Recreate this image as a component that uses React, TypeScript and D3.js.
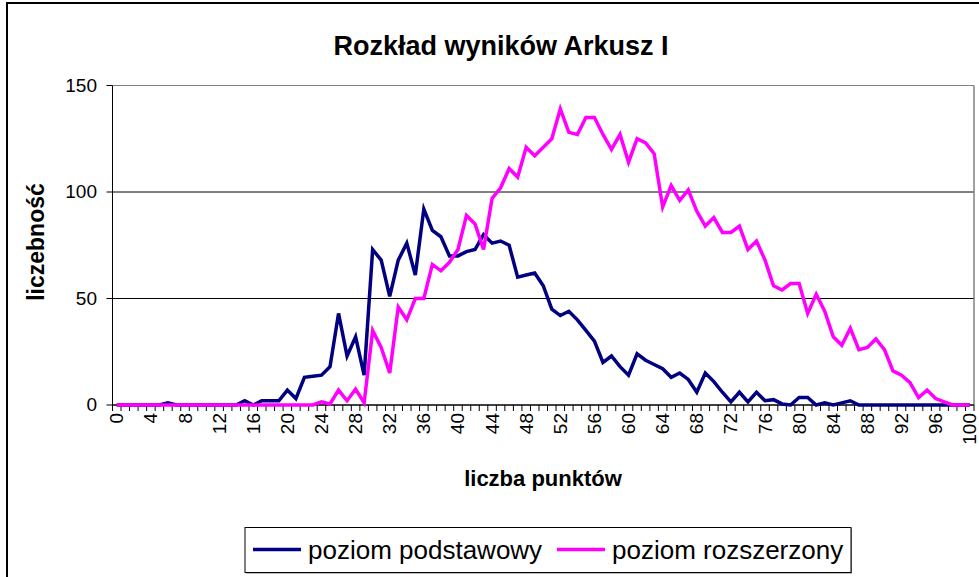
import React from "react";
import * as d3 from "d3";

const categories: number[] = d3.range(0, 101);
const tickLabels: number[] = d3.range(0, 101, 4);
const yTicks: number[] = [0, 50, 100, 150];

const podstawowy: number[] = [
  0, 0, 0, 0, 0, 0, 1, 0, 0, 0,
  0, 0, 0, 0, 0, 2, 0, 2, 2, 2,
  7, 3, 13, 13.5, 14, 18, 43, 23, 32, 14,
  73, 68, 51, 68, 76, 61, 92, 82, 79, 70,
  70, 72, 73, 80, 76, 77, 75, 60, 61, 62,
  56, 45, 42, 44, 40, 35, 30, 20, 23, 18,
  14, 24, 21, 19, 17, 13, 15, 12, 6, 15,
  11, 6, 1.5, 6, 1.5, 6, 2, 2.5, 0.5, 0,
  3.5, 3.5, 0, 1, 0, 1, 2, 0, 0, 0,
  0, 0, 0, 0, 0, 0, 0, 0, 0, 0,
  0,
];

const rozszerzony: number[] = [
  0, 0, 0, 0, 0, 0, 0, 0, 0, 0,
  0, 0, 0, 0, 0, 0, 0, 0, 0, 0,
  0, 0, 0, 0, 1.5, 0.5, 7, 2, 7.5, 1,
  35, 27, 15, 46, 40, 50, 50, 66, 63, 67,
  73, 89, 85, 73, 97, 102, 111, 107, 121, 117,
  121, 125, 139, 128, 127, 135, 135, 127, 120, 127,
  114, 125, 123, 118, 93, 103, 96, 101, 91, 84,
  88, 81, 81, 84, 73, 77, 68, 56, 54, 57,
  57, 43, 52, 44, 32, 28, 36, 26, 27, 31,
  26, 16, 14, 10.5, 3.5, 7, 3, 1.5, 0, 0,
  0,
];

const seriesNames = ["poziom podstawowy", "poziom rozszerzony"];
const seriesColors = ["#000080", "#FF00FF"];

const W = 979;
const H = 577;
const FONT = "'Liberation Sans', Arial, sans-serif";

export default function App() {
  const plot = { left: 112.5, right: 974, top: 85.5, bottom: 405 };
  const x = d3
    .scaleBand<number>()
    .domain(categories)
    .range([plot.left, plot.right])
    .padding(0);
  const bw = x.bandwidth();
  const cx = (i: number) => (x(i) as number) + bw / 2;
  const y = d3.scaleLinear().domain([0, 150]).range([plot.bottom, plot.top]);

  const line = d3
    .line<number>()
    .x((_, i) => cx(categories[i]))
    .y((d) => y(d));

  const series = [podstawowy, rozszerzony];

  const boundaries = d3.range(0, categories.length + 1).map((k) => plot.left + k * bw);

  const legend = { x: 245, y: 527.5, w: 606, h: 45 };
  const legendItemX = [253, 557];

  return (
    <svg
      width={W}
      height={H}
      style={{ position: "absolute", left: 0, top: 0, background: "#fff" }}
      fontFamily={FONT}
    >
      <rect x={0} y={0} width={W} height={H} fill="#fff" />
      {/* chart area border */}
      <rect x={7} y={3} width={W + 20} height={H + 20} fill="none" stroke="#000" strokeWidth={2} />

      {/* title */}
      <text x={501} y={55} textAnchor="middle" fontSize={27} fontWeight="bold" fill="#000">
        Rozkład wyników Arkusz I
      </text>

      {/* gridlines */}
      {yTicks.map((t) => (
        <line
          key={"g" + t}
          x1={plot.left}
          x2={plot.right}
          y1={y(t)}
          y2={y(t)}
          stroke={t === 150 ? "#808080" : "#000"}
          strokeWidth={1}
        />
      ))}
      {/* plot border right */}
      <line x1={plot.right} x2={plot.right} y1={plot.top} y2={plot.bottom} stroke="#808080" strokeWidth={1.5} />

      {/* y axis */}
      <line x1={plot.left} x2={plot.left} y1={plot.top} y2={plot.bottom} stroke="#000" strokeWidth={1} />
      {yTicks.map((t) => (
        <g key={"yt" + t}>
          <line x1={plot.left - 6} x2={plot.left} y1={y(t)} y2={y(t)} stroke="#000" strokeWidth={1} />
          <text x={97} y={y(t) + 6} textAnchor="end" fontSize={19} fill="#000">
            {t}
          </text>
        </g>
      ))}

      {/* x axis */}
      <line x1={plot.left} x2={plot.right} y1={plot.bottom} y2={plot.bottom} stroke="#000" strokeWidth={1} />
      {boundaries.map((bx, k) => (
        <line key={"xt" + k} x1={bx} x2={bx} y1={plot.bottom} y2={plot.bottom + 6} stroke="#000" strokeWidth={1} />
      ))}
      {tickLabels.map((t) => (
        <text
          key={"xl" + t}
          transform={`translate(${cx(t) + 6.5},${plot.bottom + 8}) rotate(-90)`}
          textAnchor="end"
          fontSize={19}
          fill="#000"
        >
          {t}
        </text>
      ))}

      {/* series */}
      {series.map((s, k) => (
        <path key={"s" + k} d={line(s) || ""} fill="none" stroke={seriesColors[k]} strokeWidth={3.5} />
      ))}

      {/* axis titles */}
      <text x={543} y={486} textAnchor="middle" fontSize={22} fontWeight="bold" fill="#000">
        liczba punktów
      </text>
      <text
        transform={`translate(43.5,242) rotate(-90)`}
        textAnchor="middle"
        fontSize={23}
        fontWeight="bold"
        fill="#000"
      >
        liczebność
      </text>

      {/* legend */}
      <rect x={legend.x + 1} y={legend.y + 1} width={legend.w} height={legend.h} fill="#808080" />
      <rect x={legend.x} y={legend.y} width={legend.w} height={legend.h} fill="#fff" stroke="#000" strokeWidth={1} />
      {seriesNames.map((name, k) => {
        const lx = legendItemX[k];
        return (
          <g key={"lg" + k}>
            <line x1={lx} x2={lx + 48} y1={legend.y + 22} y2={legend.y + 22} stroke={seriesColors[k]} strokeWidth={3.5} />
            <text x={lx + 55} y={legend.y + 31} fontSize={26} fill="#000">
              {name}
            </text>
          </g>
        );
      })}
    </svg>
  );
}
